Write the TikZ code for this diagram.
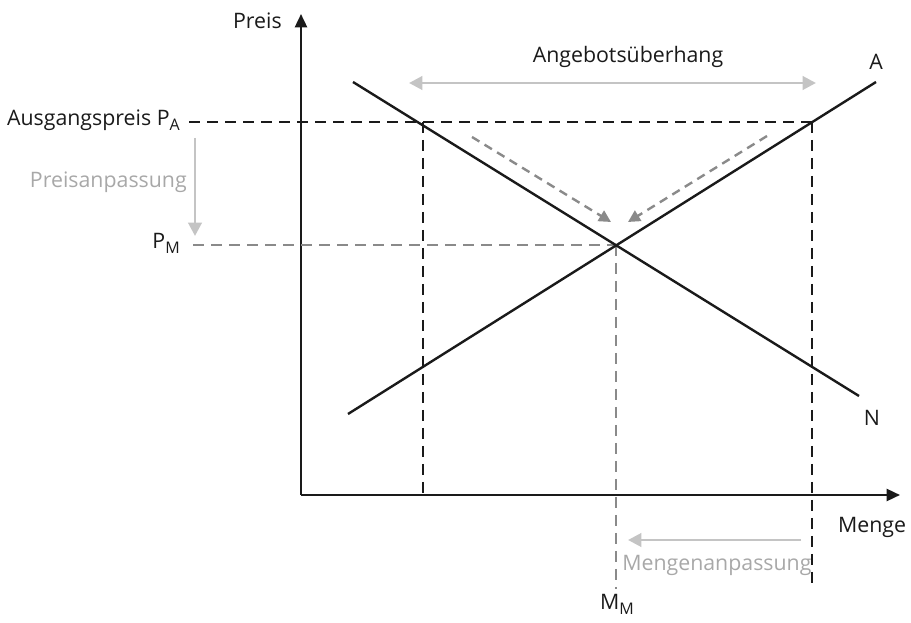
\documentclass[tikz,border=0pt]{standalone}
\usepackage{fontspec}
\setmainfont{Open Sans}
\usetikzlibrary{arrows.meta}
\definecolor{ink}{HTML}{1A1A1A}
\definecolor{midgray}{HTML}{8A8A8A}
\definecolor{lightgray}{HTML}{C4C4C4}
\definecolor{lighttext}{HTML}{A8A8A8}
\newcommand\lowsub[1]{\raisebox{-0.45ex}{\fontsize{12}{12}\selectfont #1}}
\tikzset{
  axis/.style={line width=1.8pt, draw=ink, -{Triangle[length=10pt,width=9pt]}},
  curve/.style={line width=1.8pt, draw=ink},
  blackdash/.style={line width=1.8pt, draw=ink, dash pattern=on 8.5pt off 5pt},
  graydash/.style={line width=1.8pt, draw=midgray, dash pattern=on 8.5pt off 5pt},
  grayarrow/.style={line width=1.8pt, draw=midgray, dash pattern=on 6.5pt off 4.5pt, -{Triangle[length=9pt,width=9pt]}},
  lightarrow/.style={line width=2.2pt, draw=lightgray, -{Triangle[length=10pt,width=10pt]}},
  lightdouble/.style={line width=2.2pt, draw=lightgray, {Triangle[length=10pt,width=10pt]}-{Triangle[length=10pt,width=10pt]}},
  lbl/.style={inner sep=0pt, font=\fontsize{16}{19}\selectfont, text=ink},
  glbl/.style={inner sep=0pt, font=\fontsize{16}{19}\selectfont, text=lighttext},
}
\begin{document}
\begin{tikzpicture}[x=0.75pt,y=-0.75pt]
\useasboundingbox (0,0) rectangle (911,623);
% coordinates
\coordinate (O) at (301,495);
\coordinate (Ytip) at (301,14);
\coordinate (Xtip) at (900,495);
\coordinate (S1) at (348,414);
\coordinate (S2) at (876,82);
\coordinate (D1) at (353,82);
\coordinate (D2) at (859,396);
\coordinate (E) at (616,245);
\coordinate (PAl) at (189,122);
\coordinate (PAr) at (812,122);
\coordinate (QLt) at (423,122);
\coordinate (QLb) at (423,495);
\coordinate (QRb) at (812,589);
\coordinate (PMl) at (193,245);
\coordinate (MMb) at (616,589);
% axes
\draw[axis] (O) -- (Ytip);
\draw[axis] (O) -- (Xtip);
% dashed guides
\draw[blackdash] (PAl) -- (PAr);
\draw[blackdash] (QLt) -- (QLb);
\draw[blackdash] (PAr) -- (QRb);
\draw[graydash] (PMl) -- (E);
\draw[graydash] (E) -- (MMb);
% curves
\draw[curve] (S1) -- (S2);
\draw[curve] (D1) -- (D2);
% adjustment arrows
\coordinate (g1s) at (472,137);
\coordinate (g1e) at (611,222);
\coordinate (g2s) at (767,136);
\coordinate (g2e) at (628,222);
\draw[grayarrow] (g1s) -- (g1e);
\draw[grayarrow] (g2s) -- (g2e);
\coordinate (db1) at (409,83);
\coordinate (db2) at (816,83);
\draw[lightdouble] (db1) -- (db2);
\coordinate (pa1) at (195,138);
\coordinate (pa2) at (195,236);
\draw[lightarrow] (pa1) -- (pa2);
\coordinate (ma1) at (801,540);
\coordinate (ma2) at (628,540);
\draw[lightarrow] (ma1) -- (ma2);
% labels
\node[lbl, anchor=east] (preis) at (282,21) {Preis};
\node[lbl] (menge) at (872,527) {Menge};
\node[lbl] (A) at (876,62) {A};
\node[lbl] (N) at (872,418) {N};
\node[lbl] (ueber) at (628,57) {Angebotsüberhang};
\node[lbl, anchor=east] (pa) at (180,120) {Ausgangspreis P\lowsub{A}};
\node[glbl, anchor=east] (pan) at (187,182) {Preisanpassung};
\node[lbl, anchor=east] (pm) at (180,243) {P\lowsub{M}};
\node[glbl, anchor=west] (man) at (622,565) {Mengenanpassung};
\node[lbl] (mm) at (617,604) {M\lowsub{M}};
\end{tikzpicture}
\end{document}
